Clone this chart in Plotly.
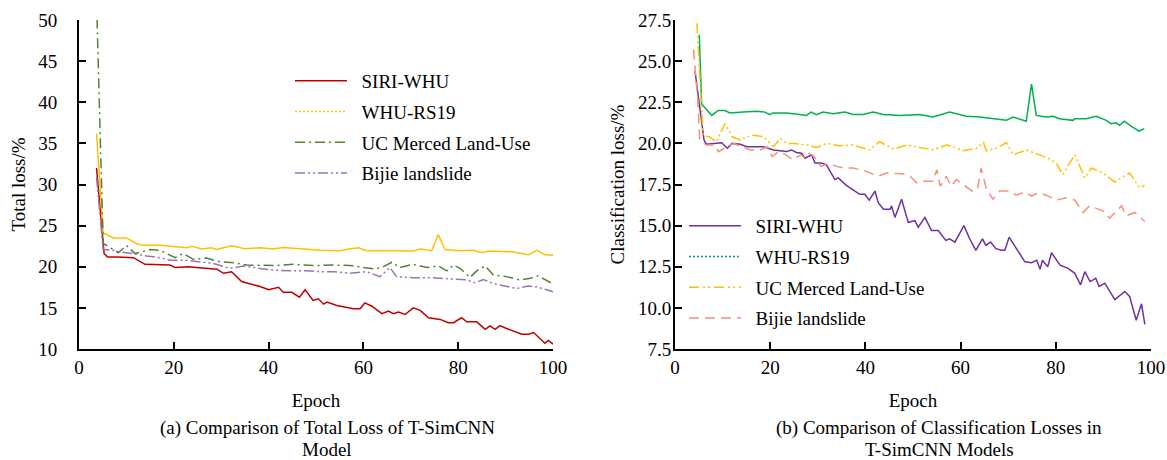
import plotly.graph_objects as go

# ---------------- data: (a) total loss ----------------
tl_siri_x = [3.7, 5.3, 6, 8, 11.5, 13.9, 19.2, 20.3, 23, 29.1, 30.5, 32.2, 34.3, 36.1, 38.2, 40, 42.1, 43.1, 44.9, 46.5, 47.7, 49.4, 50.5, 51.6, 52.3, 54.4, 56.5, 57.9, 59.3, 60.3, 61.8, 63.9, 65.3, 66.3, 67.4, 68.8, 70.5, 72, 73.7, 76.2, 77.9, 79, 80.7, 81.8, 83.9, 85.7, 86.7, 87.8, 88.8, 90.2, 93.4, 94.8, 95.9, 98.3, 99, 100]
tl_siri_y = [32.0, 21.6, 21.2, 21.2, 21.1, 20.3, 20.2, 19.9, 20.0, 19.7, 19.2, 19.4, 18.2, 17.9, 17.6, 17.2, 17.5, 16.9, 16.9, 16.3, 17.2, 15.9, 16.1, 15.45, 15.7, 15.3, 15.1, 14.9, 14.9, 15.6, 15.2, 14.3, 14.6, 14.3, 14.5, 14.2, 15.0, 14.7, 13.8, 13.6, 13.2, 13.2, 13.8, 13.3, 13.3, 12.4, 12.8, 12.4, 12.85, 12.5, 11.8, 11.8, 12.0, 10.7, 11.05, 10.6]

tl_rs19_x = [3.7, 5.1, 7.3, 10, 12.2, 13.6, 17.1, 20.6, 22.7, 23.8, 25.9, 28, 29, 32.2, 35, 38.2, 41, 43.1, 46.6, 50.9, 55.1, 57.2, 59, 60.7, 66.3, 70.5, 72, 74.4, 75.8, 77.2, 80.4, 83.2, 85, 86.4, 91.6, 94.8, 96.6, 98.3, 100]
tl_rs19_y = [36.2, 24.1, 23.5, 23.5, 22.8, 22.6, 22.6, 22.4, 22.3, 22.5, 22.15, 22.3, 22.1, 22.55, 22.2, 22.3, 22.15, 22.35, 22.2, 22.0, 21.95, 22.2, 22.3, 21.95, 21.95, 21.9, 22.15, 21.95, 23.9, 22.1, 21.95, 22.0, 21.7, 21.9, 21.8, 21.45, 22.0, 21.45, 21.4]

tl_ucm_x = [3.8, 5.1, 5.8, 8.3, 10, 11.8, 15, 17.1, 20.3, 22, 24.1, 26.9, 29.8, 32.6, 35.4, 38.2, 41.7, 45.2, 49.4, 53.7, 57.2, 62.1, 63.9, 66, 67.7, 70.5, 73.4, 75.8, 77.6, 79, 80.4, 82.5, 83.9, 85.7, 87.4, 90.2, 93, 95.2, 96.9, 100]
tl_ucm_y = [50.2, 22.85, 22.6, 21.7, 22.6, 21.6, 22.1, 22.0, 21.1, 21.6, 20.9, 21.05, 20.6, 20.5, 20.2, 20.15, 20.15, 20.3, 20.15, 20.2, 20.15, 19.75, 19.9, 20.55, 19.9, 20.3, 19.9, 20.1, 19.5, 20.2, 19.8, 18.7, 19.5, 20.1, 19.0, 18.8, 18.4, 18.6, 18.9, 17.9]

tl_bijie_x = [3.7, 5.1, 7.3, 8.7, 11.5, 14.3, 17.1, 19.2, 22.7, 25.5, 28.3, 31.9, 34.7, 38.2, 41, 44.5, 48, 50.9, 53.7, 57.2, 60.7, 63.5, 65.6, 67, 70.5, 74.8, 79, 81.8, 83.6, 85.3, 87.4, 90.2, 92.3, 94.8, 96.6, 100]
tl_bijie_y = [30.9, 22.1, 22.0, 21.8, 21.6, 21.3, 21.1, 20.8, 20.8, 20.6, 20.4, 19.8, 20.1, 19.8, 19.6, 19.5, 19.5, 19.4, 19.4, 19.2, 19.4, 18.8, 19.9, 18.8, 18.65, 18.65, 18.45, 18.4, 18.05, 18.45, 17.95, 17.65, 17.35, 17.65, 17.55, 16.95]

# ---------------- data: (b) classification loss ----------------
cl_siri_x = [4.2, 6.1, 6.6, 9.8, 11, 12, 13.7, 15.1, 18.6, 20.7, 23.4, 24.5, 25.5, 26.6, 27.3, 28.7, 29.4, 30.8, 31.8, 33.6, 34.3, 36, 38.8, 39.9, 40.8, 42, 42.7, 43.8, 45.2, 45.5, 46.2, 47.6, 49, 50.4, 51.1, 52.5, 53.9, 55.3, 56.9, 57.7, 58.8, 60.7, 61.9, 63.2, 64.6, 65.3, 66.3, 67.4, 68.6, 69.3, 70.2, 71.8, 73.5, 74.9, 76, 76.7, 77.2, 78.3, 79.1, 80.9, 82.6, 84, 85.2, 86.1, 87.2, 88.4, 89.1, 90.3, 92.4, 94.5, 95.5, 96.9, 98, 98.7]
cl_siri_y = [24.4, 20.2, 19.95, 20.04, 19.7, 20.0, 19.95, 19.8, 19.8, 19.6, 19.5, 19.6, 19.45, 19.4, 19.1, 19.3, 18.8, 18.8, 18.7, 17.8, 17.9, 17.45, 16.9, 16.9, 16.55, 17.1, 16.4, 16.0, 16.0, 16.2, 15.5, 16.6, 15.2, 15.3, 14.9, 15.5, 14.7, 14.7, 14.1, 14.2, 14.0, 15.0, 14.2, 13.5, 14.2, 13.8, 14.0, 13.6, 13.5, 13.5, 14.3, 13.6, 12.8, 12.75, 12.9, 12.35, 12.9, 12.5, 13.35, 12.6, 12.4, 12.1, 11.4, 12.2, 11.6, 11.8, 11.3, 11.5, 10.5, 11.0, 10.7, 9.25, 10.25, 9.0]

cl_rs19_x = [5.1, 5.6, 7.7, 9.1, 10.5, 11.5, 14.3, 17.1, 18.9, 19.9, 20.6, 23.4, 26.2, 27.6, 28.6, 29.7, 31.1, 33.2, 35.7, 37.4, 39.5, 41.6, 43.8, 47.2, 51.4, 54.2, 57.7, 61.2, 64, 67.5, 69.6, 71, 73.8, 74.9, 75.9, 78, 79.4, 80.8, 83.6, 84, 86.4, 88.5, 90.6, 91.6, 92.7, 93.4, 94.4, 95.8, 97.5, 98.6]
cl_rs19_y = [26.6, 22.4, 21.7, 22.0, 22.0, 21.85, 21.9, 21.95, 21.9, 21.75, 21.85, 21.85, 21.75, 21.7, 21.9, 21.75, 21.9, 21.8, 21.9, 21.75, 21.75, 21.9, 21.75, 21.7, 21.75, 21.6, 21.9, 21.65, 21.6, 21.5, 21.4, 21.6, 21.35, 23.6, 21.7, 21.6, 21.65, 21.5, 21.4, 21.5, 21.5, 21.65, 21.4, 21.2, 21.25, 21.1, 21.35, 21.05, 20.75, 20.9]

cl_ucm_x = [4.6, 5.9, 7.2, 8.7, 10.5, 12, 13.7, 15.1, 16.5, 18.6, 20.7, 22.1, 23.5, 24.9, 27.7, 29.8, 31.8, 34.6, 37.4, 40.9, 43, 45.9, 48.7, 52.2, 54.2, 57, 58.4, 60.5, 63.3, 64.8, 65.4, 67.5, 69.6, 71, 73.8, 76.6, 78.7, 80.1, 81.5, 82.5, 84, 86.1, 87.5, 89.9, 92.4, 95.5, 97.6, 98.7]
cl_ucm_y = [27.3, 20.5, 20.4, 20.1, 21.2, 20.4, 20.2, 20.4, 20.5, 20.4, 19.8, 20.3, 20.0, 20.0, 19.9, 19.75, 20.0, 19.85, 19.9, 19.6, 20.1, 19.65, 19.9, 19.7, 19.6, 19.9, 19.8, 19.55, 19.7, 20.05, 19.55, 19.7, 20.05, 19.3, 19.6, 19.3, 19.05, 18.8, 18.1, 18.6, 19.3, 17.9, 18.5, 18.2, 17.65, 18.2, 17.3, 17.45]

cl_bijie_x = [3.9, 4.8, 5.2, 6.6, 8.4, 9.1, 11, 12.4, 13.8, 15.9, 18, 19.4, 20.4, 21.8, 23.3, 24.7, 26.4, 27.5, 28.2, 29.2, 30.7, 32.4, 33.9, 35.6, 37.4, 40.2, 42.7, 44.4, 47.9, 49.4, 50.8, 52.2, 54.2, 55, 55.7, 57, 58, 59.1, 60.5, 62.6, 63.6, 64.3, 65.4, 66.8, 68.2, 70.3, 71.7, 73.5, 74.9, 76.3, 78, 80.1, 82.2, 84, 85.7, 87.1, 89.9, 91.3, 93.8, 94.8, 96.6, 98.7]
cl_bijie_y = [25.7, 22.6, 20.2, 19.9, 19.9, 19.5, 19.8, 20.0, 19.8, 19.6, 19.6, 19.8, 19.2, 19.5, 19.3, 19.0, 19.3, 19.1, 19.4, 19.2, 18.6, 18.8, 18.6, 18.5, 18.5, 18.3, 18.0, 18.2, 18.15, 18.0, 17.6, 17.7, 17.7, 18.4, 17.4, 18.0, 17.4, 17.8, 17.5, 17.05, 17.3, 18.5, 17.25, 16.6, 17.1, 17.1, 16.85, 17.05, 16.8, 17.0, 16.85, 16.55, 16.7, 16.55, 15.8, 16.2, 15.9, 15.45, 16.2, 15.6, 15.8, 15.25]

series_names = ["SIRI-WHU", "WHU-RS19", "UC Merced Land-Use", "Bijie landslide"]
x_ticks = [0, 20, 40, 60, 80, 100]
y_ticks_a = [10, 15, 20, 25, 30, 35, 40, 45, 50]
y_ticks_b = [7.5, 10.0, 12.5, 15.0, 17.5, 20.0, 22.5, 25.0, 27.5]
y_ticks_b_text = ["7.5", "10.0", "12.5", "15.0", "17.5", "20.0", "22.5", "25.0", "27.5"]
caption_a = ["(a) Comparison of Total Loss of T-SimCNN", "Model"]
caption_b = ["(b) Comparison of Classification Losses in", "T-SimCNN Models"]

FONT = "'Liberation Serif', 'Times New Roman', Times, serif"
NB = "\u00a0\u00a0"  # small gap between legend sample and its label

# styles: (colour, dash drawn, dash shown in legend)
style_a = [
    ("#C00000", "solid", "solid"),
    ("#FFC000", "solid", "2px,2px"),
    ("#548235", "10px,4px,2px,4px", "10px,4px,2px,4px"),
    ("#9B72B0", "10px,3px,2px,3px,2px,3px", "10px,3px,2px,3px,2px,3px"),
]
style_b = [
    ("#7030A0", "solid", "solid"),
    ("#00B050", "solid", "2px,2px"),
    ("#FFC000", "10px,3px,2px,3px,2px,3px", "10px,4px,2px,3px,2px,4px"),
    ("#F4907C", "10px,6px", "10px,6px"),
]

data_a = [(tl_siri_x, tl_siri_y), (tl_rs19_x, tl_rs19_y), (tl_ucm_x, tl_ucm_y), (tl_bijie_x, tl_bijie_y)]
data_b = [(cl_siri_x, cl_siri_y), (cl_rs19_x, cl_rs19_y), (cl_ucm_x, cl_ucm_y), (cl_bijie_x, cl_bijie_y)]

fig = go.Figure()

for (xs, ys), name, (col, dash, ldash) in zip(data_a, series_names, style_a):
    fig.add_trace(go.Scatter(x=xs, y=ys, mode="lines", name=name, showlegend=False,
                             line=dict(color=col, width=1.5, dash=dash), xaxis="x", yaxis="y"))
for i, (name, (col, dash, ldash)) in enumerate(zip(series_names, style_a)):
    fig.add_trace(go.Scatter(x=[None], y=[None], mode="lines", name=NB + name, legend="legend",
                             legendgroup="a%d" % i,
                             line=dict(color=col, width=1.5, dash=ldash), xaxis="x", yaxis="y"))

for (xs, ys), name, (col, dash, ldash) in zip(data_b, series_names, style_b):
    fig.add_trace(go.Scatter(x=xs, y=ys, mode="lines", name=name, showlegend=False,
                             line=dict(color=col, width=1.5, dash=dash), xaxis="x2", yaxis="y2"))
for i, (name, (col, dash, ldash)) in enumerate(zip(series_names, style_b)):
    fig.add_trace(go.Scatter(x=[None], y=[None], mode="lines", name=NB + name, legend="legend2",
                             legendgroup="b%d" % i,
                             line=dict(color=col, width=1.5, dash=ldash), xaxis="x2", yaxis="y2"))

axis_common = dict(showline=True, linecolor="black", linewidth=2, ticks="inside", ticklen=7,
                   tickwidth=1.5, tickcolor="black", showgrid=False, zeroline=False, automargin=False,
                   tickfont=dict(family=FONT, size=19, color="black"))

annotations = []
for cap, cx in ((caption_a, 327), (caption_b, 939)):
    for k, (line, cy) in enumerate(zip(cap, (428, 449))):
        annotations.append(dict(text=line, xref="paper", yref="paper", x=cx/1167, y=(460-cy)/460,
                                xanchor="center", yanchor="middle", showarrow=False,
                                font=dict(family=FONT, size=19)))

fig.update_layout(
    width=1167, height=460,
    margin=dict(l=0, r=0, t=0, b=0, autoexpand=False),
    paper_bgcolor="white", plot_bgcolor="white",
    font=dict(family=FONT, size=19, color="black"),
    xaxis=dict(domain=[79/1167, 553/1167], range=[0, 100], tickvals=x_ticks, anchor="y",
               title=dict(text="Epoch", standoff=17, font=dict(family=FONT, size=19)), **axis_common),
    yaxis=dict(domain=[(460-349)/460, (460-20)/460], range=[10, 50], tickvals=y_ticks_a, anchor="x",
               ticklabelstandoff=16,
               title=dict(text="Total loss/%", standoff=8, font=dict(family=FONT, size=19)), **axis_common),
    xaxis2=dict(domain=[675/1167, 1151/1167], range=[0, 100], tickvals=x_ticks, anchor="y2",
                title=dict(text="Epoch", standoff=17, font=dict(family=FONT, size=19)), **axis_common),
    yaxis2=dict(domain=[(460-349)/460, (460-20)/460], range=[7.5, 27.5], tickvals=y_ticks_b,
                ticktext=y_ticks_b_text, anchor="x2", ticklabelstandoff=-2,
                title=dict(text="Classification loss/%", standoff=8, font=dict(family=FONT, size=19)), **axis_common),
    legend=dict(x=290/1167, y=(460-62)/460, xanchor="left", yanchor="top", bgcolor="rgba(0,0,0,0)",
                itemwidth=52, tracegroupgap=3, font=dict(family=FONT, size=19)),
    legend2=dict(x=684/1167, y=(460-207)/460, xanchor="left", yanchor="top", bgcolor="rgba(0,0,0,0)",
                 itemwidth=52, tracegroupgap=3, font=dict(family=FONT, size=19)),
    annotations=annotations,
)

fig.write_html("out.html")
